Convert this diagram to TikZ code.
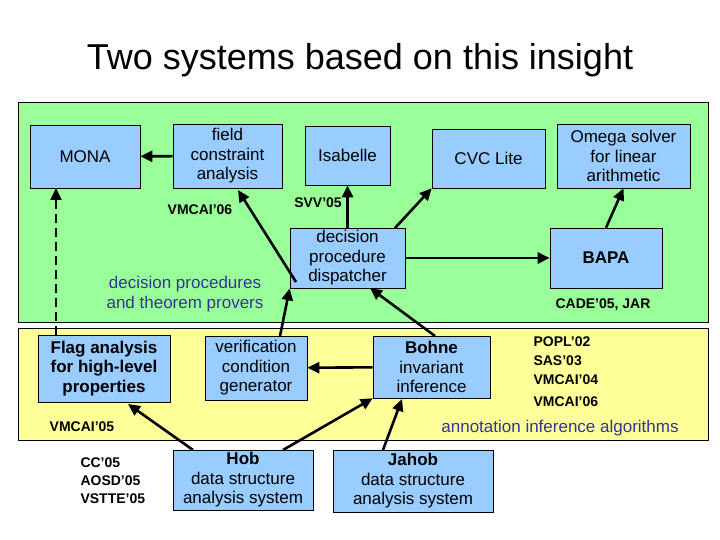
\documentclass[tikz,border=0pt]{standalone}
\usepackage{fontspec}
\setmainfont{Liberation Sans}
\usetikzlibrary{arrows.meta}
\definecolor{gbg}{HTML}{99FF99}
\definecolor{ybg}{HTML}{FFFF99}
\definecolor{boxc}{HTML}{99CCFF}
\definecolor{lblue}{HTML}{333399}
\begin{document}
\begin{tikzpicture}[x=1pt,y=-1pt,
 bx/.style={draw=black,line width=0.6pt,fill=boxc,inner sep=0pt,align=center,font=\fontsize{17}{19.5}\selectfont},
 ar/.style={-{Triangle[length=12pt,width=11pt]},line width=2.6pt},
 ref/.style={font=\bfseries\fontsize{14}{18}\selectfont,align=left},
 cat/.style={text=lblue,font=\fontsize{17}{19.5}\selectfont,align=center}]
\useasboundingbox (0,0) rectangle (720,540);
\node[font=\fontsize{36}{40}\selectfont] (title) at (360,60) {Two systems based on this insight};
\fill[gbg,draw=black,line width=0.5pt] (18,102) rectangle (708,322);
\fill[ybg,draw=black,line width=0.5pt] (18,328) rectangle (708,440);
\newcommand\bxn[6]{\node[bx,minimum width=#4-#2,minimum height=#5-#3] (#1) at ({(#2+#4)/2},{(#3+#5)/2}) {#6};}
\bxn{mona}{30}{125}{140}{188}{MONA}
\bxn{field}{173}{124}{282}{188}{field\\constraint\\analysis}
\bxn{isa}{305}{126}{390}{185}{Isabelle}
\bxn{cvc}{432}{129}{545}{188}{CVC Lite}
\bxn{omega}{557}{124}{690}{188}{Omega solver\\for linear\\arithmetic}
\bxn{disp}{290}{228}{405}{288}{decision\\procedure\\dispatcher}
\bxn{bapa}{550}{228}{662}{288}{\bfseries BAPA}
\bxn{flag}{38}{335}{170}{402}{\bfseries Flag analysis\\\bfseries for high-level\\\bfseries properties}
\bxn{vcg}{205}{336}{307}{400}{verification\\condition\\generator}
\bxn{bohne}{373}{336}{490}{398}{\bfseries Bohne\\invariant\\inference}
\bxn{hob}{173}{450}{313}{510}{\bfseries Hob\\data structure\\analysis system}
\bxn{jahob}{333}{450}{493}{512}{\bfseries Jahob\\data structure\\analysis system}
\node[ref] (l1) at (200,210) {VMCAI'06};
\node[ref] (l2) at (318,203) {SVV'05};
\node[cat] (c1) at (185,294) {decision procedures\\and theorem provers};
\node[ref] (l3) at (603,305) {CADE'05, JAR};
\node[ref,anchor=west] (l4) at (530,342) {POPL'02};
\node[ref,anchor=west] (l5) at (530,361) {SAS'03};
\node[ref,anchor=west] (l6) at (530,380) {VMCAI'04};
\node[ref,anchor=west] (l7) at (530,402) {VMCAI'06};
\node[ref] (l8) at (82,427) {VMCAI'05};
\node[cat] (c2) at (560,428) {annotation inference algorithms};
\node[ref,anchor=west,align=left,font=\bfseries\fontsize{14}{18}\selectfont] (l9) at (77,481) {CC'05\\AOSD'05\\VSTTE'05};
\coordinate (flagtop) at (56,335);
\coordinate (monabot) at (56,188);
\draw[ar] (field) -- (mona);
\draw[ar] (296,282) coordinate (d1) -- (238,190);
\draw[ar] (disp.north) -- (isa.south);
\draw[ar] (395,228) coordinate (d2) -- (cvc.south west);
\draw[ar] (disp) -- (bapa);
\draw[ar] (bapa.north) -- (omega.south);
\draw[-{Triangle[length=12pt,width=11pt]},line width=2.3pt,dash pattern=on 9pt off 5pt] (flagtop) -- (monabot);
\draw[ar] (280,336) -- (disp.south west);
\draw[ar] (435,336) -- (370,288);
\draw[ar] (bohne) -- (vcg);
\draw[ar] (193,450) -- (128,404);
\draw[ar] (283,450) -- (bohne.south west);
\draw[ar] (383,450) -- (402,399);
\end{tikzpicture}
\end{document}
